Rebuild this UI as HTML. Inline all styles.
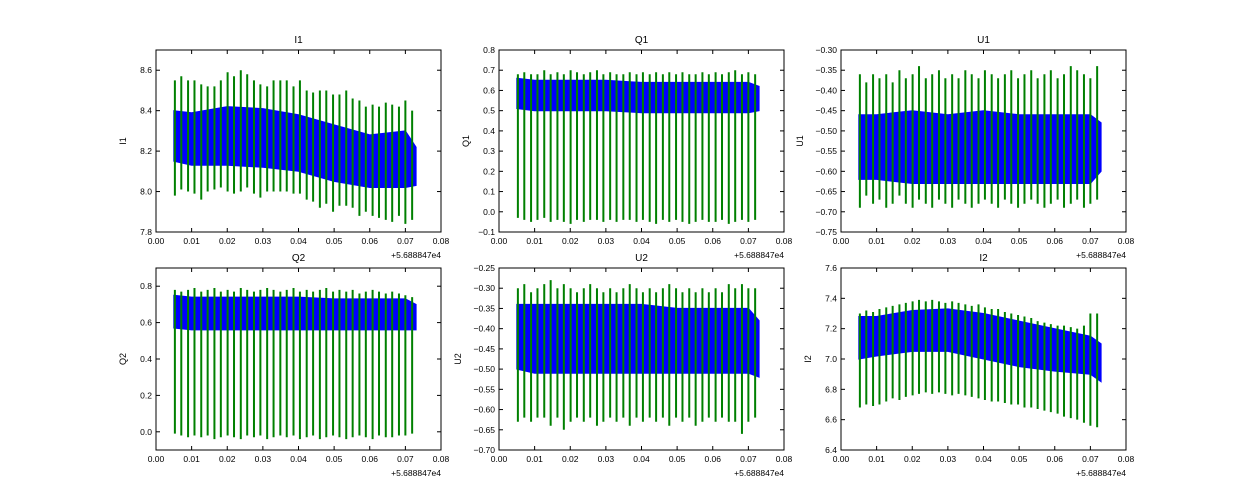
<!DOCTYPE html>
<html><head><meta charset="utf-8">
<style>
html,body{margin:0;padding:0;background:#fff;width:1250px;height:500px;overflow:hidden}
svg text{font-family:"Liberation Sans","DejaVu Sans",sans-serif;fill:#000}
</style></head>
<body>
<svg id="fig" width="1250" height="500" xmlns="http://www.w3.org/2000/svg"></svg>
<script>
const xTicks=[0,0.01,0.02,0.03,0.04,0.05,0.06,0.07,0.08];
const xTickLabels=["0.00","0.01","0.02","0.03","0.04","0.05","0.06","0.07","0.08"];
const bandX=[0.005,0.01,0.02,0.03,0.04,0.05,0.06,0.07,0.073];
const spikeX=[0.0053,0.0071,0.0090,0.0108,0.0127,0.0145,0.0164,0.0182,0.0201,0.0219,0.0238,0.0256,0.0275,0.0293,0.0312,0.0330,0.0349,0.0367,0.0386,0.0404,0.0423,0.0441,0.0460,0.0478,0.0497,0.0515,0.0534,0.0552,0.0571,0.0589,0.0608,0.0626,0.0645,0.0663,0.0682,0.0700,0.0719];

const I1Lo=[8.15,8.13,8.13,8.12,8.1,8.05,8.02,8.02,8.03];
const I1Hi=[8.40,8.39,8.42,8.41,8.38,8.33,8.28,8.30,8.22];
const I1Top=[8.55,8.57,8.55,8.55,8.53,8.52,8.52,8.55,8.59,8.57,8.6,8.58,8.55,8.53,8.52,8.55,8.55,8.55,8.52,8.55,8.5,8.49,8.5,8.5,8.48,8.48,8.5,8.46,8.45,8.42,8.43,8.42,8.44,8.43,8.42,8.45,8.40];
const I1Bot=[7.98,8.01,8.0,7.99,7.96,8.0,8.01,8.02,8.0,7.99,8.0,8.02,7.99,7.97,8.0,8.0,8.0,8.0,7.99,7.99,7.96,7.95,7.92,7.94,7.9,7.93,7.93,7.92,7.88,7.9,7.88,7.87,7.86,7.85,7.88,7.84,7.86];

const Q1Lo=[0.51,0.50,0.50,0.50,0.49,0.49,0.49,0.49,0.50];
const Q1Hi=[0.66,0.65,0.65,0.65,0.64,0.64,0.64,0.64,0.62];
const Q1Top=[0.68,0.69,0.68,0.68,0.7,0.68,0.69,0.68,0.7,0.69,0.68,0.69,0.7,0.68,0.69,0.68,0.68,0.69,0.68,0.69,0.68,0.69,0.68,0.69,0.68,0.69,0.68,0.68,0.69,0.68,0.69,0.68,0.69,0.7,0.68,0.69,0.68];
const Q1Bot=[-0.03,-0.04,-0.05,-0.04,-0.03,-0.05,-0.04,-0.05,-0.06,-0.04,-0.05,-0.04,-0.04,-0.05,-0.04,-0.05,-0.04,-0.04,-0.05,-0.04,-0.05,-0.06,-0.04,-0.05,-0.04,-0.05,-0.06,-0.05,-0.04,-0.05,-0.05,-0.04,-0.06,-0.05,-0.04,-0.05,-0.04];

const U1Lo=[-0.62,-0.62,-0.63,-0.63,-0.63,-0.63,-0.63,-0.63,-0.60];
const U1Hi=[-0.46,-0.46,-0.45,-0.46,-0.45,-0.46,-0.46,-0.46,-0.48];
const U1Top=[-0.36,-0.38,-0.36,-0.37,-0.36,-0.38,-0.35,-0.37,-0.36,-0.34,-0.37,-0.36,-0.35,-0.37,-0.36,-0.37,-0.35,-0.36,-0.37,-0.35,-0.36,-0.37,-0.36,-0.35,-0.37,-0.36,-0.35,-0.37,-0.36,-0.35,-0.37,-0.36,-0.34,-0.35,-0.36,-0.37,-0.34];
const U1Bot=[-0.69,-0.66,-0.68,-0.67,-0.69,-0.68,-0.66,-0.68,-0.69,-0.67,-0.68,-0.69,-0.67,-0.68,-0.69,-0.67,-0.68,-0.69,-0.68,-0.67,-0.68,-0.69,-0.67,-0.68,-0.69,-0.68,-0.67,-0.68,-0.69,-0.68,-0.67,-0.69,-0.68,-0.67,-0.69,-0.68,-0.67];

const Q2Lo=[0.57,0.56,0.56,0.56,0.56,0.56,0.56,0.56,0.56];
const Q2Hi=[0.75,0.74,0.74,0.74,0.74,0.73,0.73,0.73,0.70];
const Q2Top=[0.78,0.77,0.78,0.79,0.77,0.78,0.79,0.77,0.78,0.77,0.79,0.78,0.77,0.78,0.79,0.78,0.77,0.78,0.79,0.77,0.78,0.77,0.78,0.79,0.77,0.78,0.77,0.78,0.76,0.77,0.78,0.77,0.76,0.77,0.76,0.75,0.74];
const Q2Bot=[-0.01,-0.02,-0.03,-0.02,-0.03,-0.02,-0.04,-0.03,-0.02,-0.03,-0.04,-0.02,-0.03,-0.02,-0.04,-0.03,-0.02,-0.03,-0.02,-0.04,-0.03,-0.02,-0.04,-0.03,-0.02,-0.03,-0.04,-0.03,-0.02,-0.03,-0.04,-0.02,-0.03,-0.03,-0.02,-0.02,-0.01];

const U2Lo=[-0.50,-0.51,-0.51,-0.51,-0.51,-0.51,-0.51,-0.51,-0.52];
const U2Hi=[-0.34,-0.34,-0.34,-0.34,-0.34,-0.35,-0.35,-0.35,-0.38];
const U2Top=[-0.30,-0.29,-0.31,-0.30,-0.29,-0.28,-0.30,-0.29,-0.30,-0.31,-0.30,-0.29,-0.30,-0.31,-0.30,-0.31,-0.30,-0.29,-0.30,-0.31,-0.30,-0.31,-0.30,-0.29,-0.30,-0.31,-0.30,-0.31,-0.30,-0.31,-0.30,-0.31,-0.29,-0.30,-0.29,-0.30,-0.30];
const U2Bot=[-0.63,-0.62,-0.63,-0.62,-0.62,-0.64,-0.62,-0.65,-0.63,-0.62,-0.63,-0.62,-0.64,-0.63,-0.62,-0.63,-0.62,-0.64,-0.62,-0.63,-0.62,-0.63,-0.62,-0.64,-0.62,-0.63,-0.62,-0.64,-0.63,-0.62,-0.63,-0.62,-0.63,-0.63,-0.66,-0.63,-0.62];

const I2Lo=[7.00,7.02,7.05,7.05,7.00,6.95,6.92,6.90,6.85];
const I2Hi=[7.28,7.28,7.32,7.33,7.30,7.25,7.20,7.15,7.10];
const I2Top=[7.30,7.32,7.31,7.33,7.34,7.35,7.36,7.37,7.38,7.39,7.38,7.39,7.38,7.37,7.38,7.37,7.36,7.35,7.36,7.34,7.33,7.33,7.31,7.30,7.29,7.28,7.27,7.25,7.24,7.23,7.22,7.22,7.21,7.20,7.22,7.30,7.30];
const I2Bot=[6.68,6.70,6.69,6.70,6.72,6.74,6.73,6.75,6.76,6.77,6.78,6.77,6.78,6.77,6.76,6.77,6.76,6.75,6.74,6.73,6.72,6.72,6.71,6.70,6.70,6.68,6.68,6.67,6.66,6.65,6.64,6.62,6.61,6.60,6.58,6.56,6.55];

const ticksI1=[7.8,8.0,8.2,8.4,8.6], labI1=["7.8","8.0","8.2","8.4","8.6"];
const ticksQ1=[-0.1,0,0.1,0.2,0.3,0.4,0.5,0.6,0.7,0.8], labQ1=["\u22120.1","0.0","0.1","0.2","0.3","0.4","0.5","0.6","0.7","0.8"];
const ticksU1=[-0.75,-0.7,-0.65,-0.6,-0.55,-0.5,-0.45,-0.4,-0.35,-0.3], labU1=["\u22120.75","\u22120.70","\u22120.65","\u22120.60","\u22120.55","\u22120.50","\u22120.45","\u22120.40","\u22120.35","\u22120.30"];
const ticksQ2=[0,0.2,0.4,0.6,0.8], labQ2=["0.0","0.2","0.4","0.6","0.8"];
const ticksU2=[-0.7,-0.65,-0.6,-0.55,-0.5,-0.45,-0.4,-0.35,-0.3,-0.25], labU2=["\u22120.70","\u22120.65","\u22120.60","\u22120.55","\u22120.50","\u22120.45","\u22120.40","\u22120.35","\u22120.30","\u22120.25"];
const ticksI2=[6.4,6.6,6.8,7.0,7.2,7.4,7.6], labI2=["6.4","6.6","6.8","7.0","7.2","7.4","7.6"];

const NS="http://www.w3.org/2000/svg";
const fig=document.getElementById('fig');
function mk(tag,attrs,parent){const e=document.createElementNS(NS,tag);for(const k in attrs)e.setAttribute(k,attrs[k]);parent.appendChild(e);return e;}

const panels=[
 {name:'i1',title:'I1',L:156,T:50,ymin:7.8,ymax:8.7,lo:I1Lo,hi:I1Hi,top:I1Top,bot:I1Bot,ticks:ticksI1,labs:labI1},
 {name:'q1',title:'Q1',L:499,T:50,ymin:-0.1,ymax:0.8,lo:Q1Lo,hi:Q1Hi,top:Q1Top,bot:Q1Bot,ticks:ticksQ1,labs:labQ1},
 {name:'u1',title:'U1',L:841,T:50,ymin:-0.75,ymax:-0.3,lo:U1Lo,hi:U1Hi,top:U1Top,bot:U1Bot,ticks:ticksU1,labs:labU1},
 {name:'q2',title:'Q2',L:156,T:268,ymin:-0.1,ymax:0.9,lo:Q2Lo,hi:Q2Hi,top:Q2Top,bot:Q2Bot,ticks:ticksQ2,labs:labQ2},
 {name:'u2',title:'U2',L:499,T:268,ymin:-0.7,ymax:-0.25,lo:U2Lo,hi:U2Hi,top:U2Top,bot:U2Bot,ticks:ticksU2,labs:labU2},
 {name:'i2',title:'I2',L:841,T:268,ymin:6.4,ymax:7.6,lo:I2Lo,hi:I2Hi,top:I2Top,bot:I2Bot,ticks:ticksI2,labs:labI2}
];
const W=285,H=182;
panels.forEach(p=>{
  const g=mk('g',{},fig);
  
  
  const sx=v=>p.L+(v-0)/(0.08)*W;
  const sy=v=>p.T+H-(v-p.ymin)/(p.ymax-p.ymin)*H;
  const clip=mk('clipPath',{id:'c'+p.name},g);
  mk('rect',{x:p.L,y:p.T,width:W,height:H},clip);
  const plot=mk('g',{'clip-path':'url(#c'+p.name+')'},g);
  // blue band
  let pts=[];
  for(let i=0;i<bandX.length;i++)pts.push(sx(bandX[i]).toFixed(1)+','+sy(p.hi[i]).toFixed(1));
  for(let i=bandX.length-1;i>=0;i--)pts.push(sx(bandX[i]).toFixed(1)+','+sy(p.lo[i]).toFixed(1));
  const band=mk('polygon',{points:pts.join(' '),fill:'#0000ff',stroke:'#0000ff','stroke-width':1},plot);
  
  
  // green spikes
  for(let i=0;i<spikeX.length;i++){
    const ln=mk('line',{x1:sx(spikeX[i]),x2:sx(spikeX[i]),y1:sy(p.top[i]),y2:sy(p.bot[i]),stroke:'#008000','stroke-width':2},plot);
    
    
  }
  // frame
  const fr=mk('rect',{x:p.L,y:p.T,width:W,height:H,fill:'none',stroke:'#000','stroke-width':1},g);
  
  
  // x ticks
  xTicks.forEach((t,i)=>{
    const x=sx(t);
    mk('line',{x1:x,x2:x,y1:p.T+H,y2:p.T+H-4,stroke:'#000','stroke-width':1},g);
    mk('line',{x1:x,x2:x,y1:p.T,y2:p.T+4,stroke:'#000','stroke-width':1},g);
    const tx=mk('text',{x:x,y:p.T+H+12,'font-size':8.5,'text-anchor':'middle'},g);
    tx.textContent=xTickLabels[i];
    
    
  });
  p.ticks.forEach((t,i)=>{
    const y=sy(t);
    mk('line',{x1:p.L,x2:p.L+4,y1:y,y2:y,stroke:'#000','stroke-width':1},g);
    mk('line',{x1:p.L+W,x2:p.L+W-4,y1:y,y2:y,stroke:'#000','stroke-width':1},g);
    const ty=mk('text',{x:p.L-4,y:y+3,'font-size':8.5,'text-anchor':'end'},g);
    ty.textContent=p.labs[i];
    
    
  });
  const off=mk('text',{x:p.L+W,y:p.T+H+26,'font-size':8.5,'text-anchor':'end'},g);
  off.textContent='+5.688847e4';
  
  
  const ti=mk('text',{x:p.L+W/2,y:p.T-7,'font-size':10,'text-anchor':'middle'},g);
  ti.textContent=p.title;
  
  
  const labX = p.L - (p.labs[0].length>4?38:30);
  const yl=mk('text',{x:labX,y:p.T+H/2,'font-size':9,'text-anchor':'middle',transform:'rotate(-90 '+labX+' '+(p.T+H/2)+')'},g);
  yl.textContent=p.title;
  
  
});
</script>
</body></html>
